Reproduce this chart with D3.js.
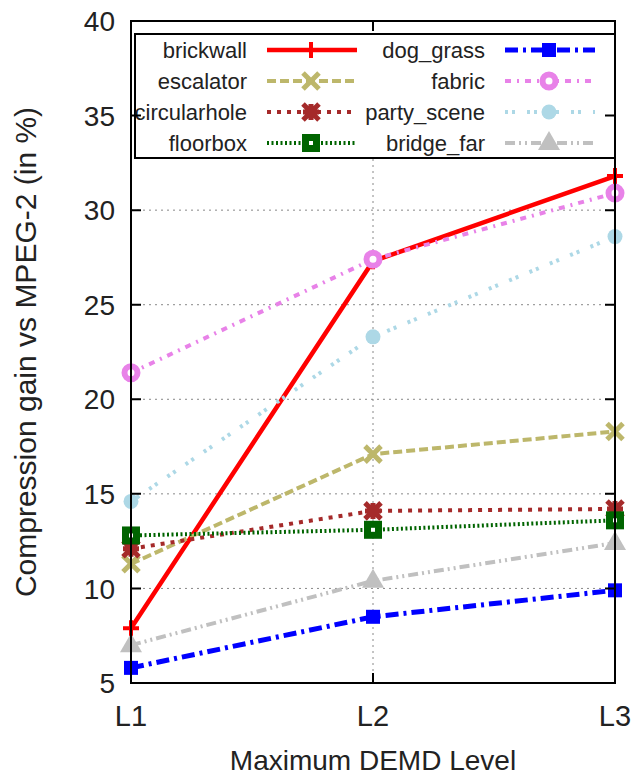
<!DOCTYPE html>
<html lang="en">
  <head>
    <meta charset="utf-8">
    <title>Compression gain vs DEMD level</title>
    <script type="text/javascript" src="https://cdn.jsdelivr.net/npm/d3@7"></script>
    <style>
    body { margin: 0; background: #fff; }
    text { font-family: "Liberation Sans", Arial, sans-serif; fill: #222; }
    </style>
  </head>
  <body>
    <script type="text/javascript">
      // values
      var levels = ["L1", "L2", "L3"];
      var brickwall = [7.9, 27.3, 31.8];
      var escalator = [11.3, 17.1, 18.3];
      var circularhole = [12.1, 14.1, 14.2];
      var floorbox = [12.8, 13.1, 13.6];
      var dog_grass = [5.8, 8.5, 9.9];
      var fabric = [21.4, 27.4, 30.9];
      var party_scene = [14.6, 23.3, 28.6];
      var bridge_far = [7.0, 10.4, 12.4];
      var yTicks = [5, 10, 15, 20, 25, 30, 35, 40];

      var w = 637;
      var h = 782;
      // note: "top" is taken by window.top, so plot edges get their own names
      var plotL = 131, plotR = 615, plotT = 21, plotB = 683;

      // series styles (legend order, column by column)
      var series = [
        {name: "brickwall", values: brickwall, color: "#ff0000", dash: null, lw: 4.5, marker: "plus"},
        {name: "escalator", values: escalator, color: "#bdb76b", dash: "9,4", lw: 4, marker: "x"},
        {name: "circularhole", values: circularhole, color: "#a52a2a", dash: "4,6", lw: 4, marker: "star"},
        {name: "floorbox", values: floorbox, color: "#006400", dash: "2,2.5", lw: 4, marker: "boxopen"},
        {name: "dog_grass", values: dog_grass, color: "#0000ff", dash: "13,5,3,5", lw: 5, marker: "box"},
        {name: "fabric", values: fabric, color: "#e882e8", dash: "6,6,2,6", lw: 4, marker: "circleopen"},
        {name: "party_scene", values: party_scene, color: "#add8e6", dash: "3,4,3,12", lw: 4, marker: "circle"},
        {name: "bridge_far", values: bridge_far, color: "#c0c0c0", dash: "10,4,2,4,2,4", lw: 4, marker: "triangle"}
      ];

      var x = d3.scalePoint().domain(levels).range([plotL, plotR]);
      var y = d3.scaleLinear().domain([5, 40]).range([plotB, plotT]);

      var svg = d3.select("body")
                  .append("svg")
                  .attr("width", w)
                  .attr("height", h);

      // grid
      svg.selectAll("line.hgrid")
         .data(yTicks.slice(1, -1))
         .enter()
         .append("line")
         .attr("x1", plotL).attr("x2", plotR)
         .attr("y1", function(d){ return y(d); })
         .attr("y2", function(d){ return y(d); })
         .attr("stroke", "#888")
         .attr("stroke-width", 1)
         .attr("stroke-dasharray", "2,4");
      svg.append("line")
         .attr("x1", x("L2")).attr("x2", x("L2"))
         .attr("y1", plotT).attr("y2", plotB)
         .attr("stroke", "#888")
         .attr("stroke-width", 1)
         .attr("stroke-dasharray", "2,4");

      function drawMarker(g, type, color, cx, cy) {
        var s = 8;
        if (type == "plus") {
          g.append("path")
           .attr("d", "M" + (cx - s) + "," + cy + "H" + (cx + s) + "M" + cx + "," + (cy - s) + "V" + (cy + s))
           .attr("stroke", color).attr("stroke-width", 4).attr("fill", "none");
        } else if (type == "x") {
          g.append("path")
           .attr("d", "M" + (cx - s) + "," + (cy - s) + "L" + (cx + s) + "," + (cy + s) +
                      "M" + (cx - s) + "," + (cy + s) + "L" + (cx + s) + "," + (cy - s))
           .attr("stroke", color).attr("stroke-width", 5).attr("fill", "none");
        } else if (type == "star") {
          g.append("path")
           .attr("d", "M" + (cx - s) + "," + cy + "H" + (cx + s) + "M" + cx + "," + (cy - s) + "V" + (cy + s) +
                      "M" + (cx - s) + "," + (cy - s) + "L" + (cx + s) + "," + (cy + s) +
                      "M" + (cx - s) + "," + (cy + s) + "L" + (cx + s) + "," + (cy - s))
           .attr("stroke", color).attr("stroke-width", 5).attr("fill", "none");
        } else if (type == "boxopen") {
          g.append("rect")
           .attr("x", cx - 5.5).attr("y", cy - 5.5).attr("width", 11).attr("height", 11)
           .attr("fill", "#fff").attr("stroke", color).attr("stroke-width", 7);
        } else if (type == "box") {
          g.append("rect")
           .attr("x", cx - 7).attr("y", cy - 7).attr("width", 14).attr("height", 14)
           .attr("fill", color);
        } else if (type == "circleopen") {
          g.append("circle")
           .attr("cx", cx).attr("cy", cy).attr("r", 6.5)
           .attr("fill", "#fff").attr("stroke", color).attr("stroke-width", 6);
        } else if (type == "circle") {
          g.append("circle")
           .attr("cx", cx).attr("cy", cy).attr("r", 7.5)
           .attr("fill", color);
        } else if (type == "triangle") {
          g.append("path")
           .attr("d", "M" + cx + "," + (cy - 12) + "L" + (cx + 11) + "," + (cy + 7) + "L" + (cx - 11) + "," + (cy + 7) + "Z")
           .attr("fill", color);
        }
      }

      var line = d3.line()
                   .x(function(d, i){ return x(levels[i]); })
                   .y(function(d){ return y(d); });

      // series lines and markers
      series.forEach(function(s){
        var g = svg.append("g");
        g.append("path")
         .attr("d", line(s.values))
         .attr("fill", "none")
         .attr("stroke", s.color)
         .attr("stroke-width", s.lw)
         .attr("stroke-dasharray", s.dash);
        s.values.forEach(function(v, i){
          drawMarker(g, s.marker, s.color, x(levels[i]), y(v));
        });
      });

      // legend box
      var legX = 135, legY = 34, legW = 480, legH = 124, rowH = 31;
      svg.append("rect")
         .attr("x", legX).attr("y", legY)
         .attr("width", legW).attr("height", legH)
         .attr("fill", "#fff")
         .attr("stroke", "#000")
         .attr("stroke-width", 2);

      var legend = svg.selectAll("g.legend")
                      .data(series)
                      .enter()
                      .append("g")
                      .attr("class", "legend")
                      .attr("transform", function(d, i){
                        var col = Math.floor(i / 4), row = i % 4;
                        return "translate(" + (col * 238) + "," + (legY + 16 + row * rowH) + ")";
                      });
      legend.append("text")
            .text(function(d){ return d.name; })
            .attr("x", 247)
            .attr("y", 0)
            .attr("dy", "0.35em")
            .attr("text-anchor", "end")
            .attr("font-size", "22px");
      legend.append("line")
            .attr("x1", 267).attr("x2", 357)
            .attr("y1", 0).attr("y2", 0)
            .attr("stroke", function(d){ return d.color; })
            .attr("stroke-width", function(d){ return d.lw; })
            .attr("stroke-dasharray", function(d){ return d.dash; });
      legend.each(function(d){
        drawMarker(d3.select(this), d.marker, d.color, 311, 0);
      });

      // frame and ticks
      svg.append("rect")
         .attr("x", plotL).attr("y", plotT)
         .attr("width", plotR - plotL).attr("height", plotB - plotT)
         .attr("fill", "none")
         .attr("stroke", "#000")
         .attr("stroke-width", 2);

      svg.selectAll("path.ytick")
         .data(yTicks)
         .enter()
         .append("path")
         .attr("d", function(d){
           return "M" + plotL + "," + y(d) + "h10M" + plotR + "," + y(d) + "h-10";
         })
         .attr("stroke", "#000")
         .attr("stroke-width", 2);
      svg.append("path")
         .attr("d", "M" + x("L2") + "," + plotB + "v-10M" + x("L2") + "," + plotT + "v10")
         .attr("stroke", "#000")
         .attr("stroke-width", 2);

      svg.selectAll("text.ylab")
         .data(yTicks)
         .enter()
         .append("text")
         .text(function(d){ return d; })
         .attr("x", plotL - 16)
         .attr("y", function(d){ return y(d); })
         .attr("dy", "0.36em")
         .attr("text-anchor", "end")
         .attr("font-size", "28px");

      svg.selectAll("text.xlab")
         .data(levels)
         .enter()
         .append("text")
         .text(function(d){ return d; })
         .attr("x", function(d){ return x(d); })
         .attr("y", 726)
         .attr("text-anchor", "middle")
         .attr("font-size", "29px");

      // axis titles
      svg.append("text")
         .text("Maximum DEMD Level")
         .attr("x", (plotL + plotR) / 2)
         .attr("y", 770)
         .attr("text-anchor", "middle")
         .attr("font-size", "28px");
      svg.append("text")
         .text("Compression gain vs MPEG-2 (in %)")
         .attr("transform", "translate(36," + ((plotT + plotB) / 2) + ") rotate(-90)")
         .attr("text-anchor", "middle")
         .attr("font-size", "30px");
    </script>
  </body>
</html>
